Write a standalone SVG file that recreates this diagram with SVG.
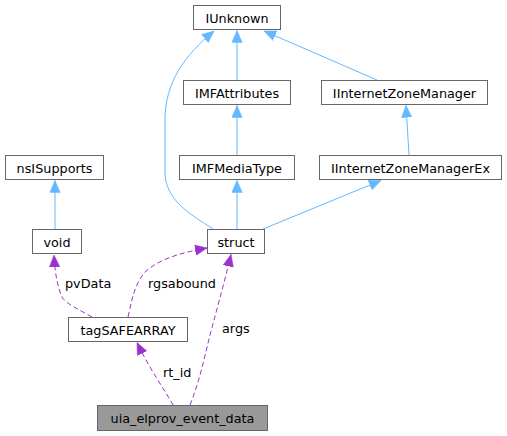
<svg xmlns="http://www.w3.org/2000/svg" width="507" height="436" viewBox="0 0 507 436">
<defs>
<style>
.n rect{fill:#fff;stroke:#666;stroke-width:1}
.n text,.lbl{font-family:"DejaVu Sans",sans-serif;font-size:12.8px;fill:#000}
.n text{text-anchor:middle}
.b{fill:none;stroke:#63b8ff;stroke-width:1}
.p{fill:none;stroke:#9a32cd;stroke-width:1;stroke-dasharray:5,3}
</style>
<marker id="ab" markerUnits="userSpaceOnUse" markerWidth="13" markerHeight="11" refX="12" refY="5.25" orient="auto" viewBox="0 0 13 10.5"><path d="M0,0 L12,5.25 L0,10.5 Z" fill="#63b8ff" stroke="#63b8ff" stroke-width="0.5"/></marker>
<marker id="ap" markerUnits="userSpaceOnUse" markerWidth="13" markerHeight="11" refX="12" refY="5.25" orient="auto" viewBox="0 0 13 10.5"><path d="M0,0 L12,5.25 L0,10.5 Z" fill="#9a32cd" stroke="#9a32cd" stroke-width="0.5"/></marker>
</defs>
<rect width="507" height="436" fill="#fff"/>
<g id="edges">
<path class="b" d="M237,80 L237,30.5" marker-end="url(#ab)"/>
<path class="b" d="M377,80 L264,31" marker-end="url(#ab)"/>
<path class="b" d="M213,229 C190,214 165,200 165,172 L165,120 C165,82 185,55 214,31" marker-end="url(#ab)"/>
<path class="b" d="M237,155 L237,105.5" marker-end="url(#ab)"/>
<path class="b" d="M409,155 L406,105.5" marker-end="url(#ab)"/>
<path class="b" d="M263,229 L381,180.5" marker-end="url(#ab)"/>
<path class="b" d="M237,229 L237,180.5" marker-end="url(#ab)"/>
<path class="b" d="M55,229 L55,180.5" marker-end="url(#ab)"/>
<path class="p" d="M92,317 C80,310 66,304 62,297 C58,288 55,275 54,255" marker-end="url(#ap)"/>
<path class="p" d="M128,317 C132,300 134,285 145,272 C160,258 185,252 207,248" marker-end="url(#ap)"/>
<path class="p" d="M190,405 C200,380 205,355 210,335 C218,305 225,280 231,254.5" marker-end="url(#ap)"/>
<path class="p" d="M173,405 C165,390 150,370 137,342.5" marker-end="url(#ap)"/>
<text class="lbl" x="65" y="288">pvData</text>
<text class="lbl" x="148" y="288">rgsabound</text>
<text class="lbl" x="222" y="333">args</text>
<text class="lbl" x="163" y="377">rt_id</text>
</g>
<g id="IUnknown" class="n"><rect x="193.5" y="5.5" width="87" height="24"/><text x="237" y="23">IUnknown</text></g>
<g id="IMFAttributes" class="n"><rect x="183.5" y="80.5" width="107" height="24"/><text x="237" y="98">IMFAttributes</text></g>
<g id="IInternetZoneManager" class="n"><rect x="321.5" y="80.5" width="166" height="24"/><text x="404.5" y="98">IInternetZoneManager</text></g>
<g id="IMFMediaType" class="n"><rect x="179.5" y="155.5" width="115" height="24"/><text x="237" y="173">IMFMediaType</text></g>
<g id="IInternetZoneManagerEx" class="n"><rect x="319.5" y="155.5" width="182" height="24"/><text x="410.5" y="173">IInternetZoneManagerEx</text></g>
<g id="nsISupports" class="n"><rect x="5.5" y="155.5" width="98" height="24"/><text x="54.5" y="173">nsISupports</text></g>
<g id="void" class="n"><rect x="32.5" y="229.5" width="49" height="24"/><text x="57" y="247">void</text></g>
<g id="struct" class="n"><rect x="207.5" y="229.5" width="57" height="24"/><text x="236" y="247">struct</text></g>
<g id="tagSAFEARRAY" class="n"><rect x="68.5" y="317.5" width="119" height="24"/><text x="128" y="335">tagSAFEARRAY</text></g>
<g id="uia_elprov_event_data" class="n"><rect x="97.5" y="405.5" width="170" height="25" style="fill:#999"/><text x="182.5" y="422.5">uia_elprov_event_data</text></g>
</svg>
